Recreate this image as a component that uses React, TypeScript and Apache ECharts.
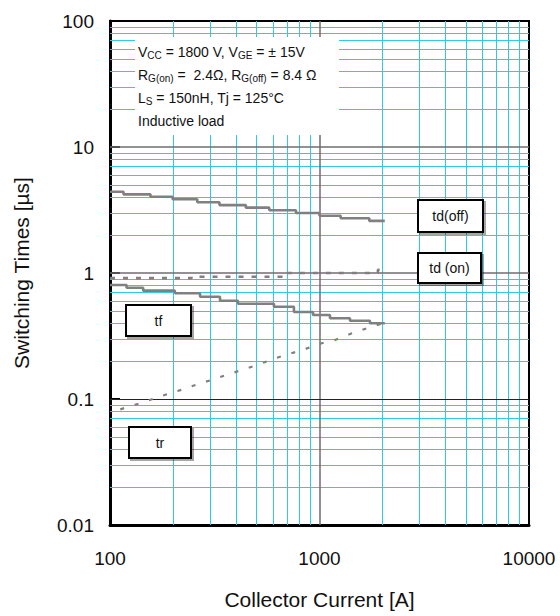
import React, { useEffect, useRef } from "react";
import * as echarts from "echarts";

// ---- data ----
const tdOff: number[][] = [
  [100, 4.42], [116, 4.21], [156, 4.03], [199, 3.85], [261, 3.64], [333, 3.46],
  [445, 3.3], [576, 3.15], [772, 2.99], [1000, 2.85], [1262, 2.72], [1729, 2.59], [2050, 2.59],
];
const tdOn: number[][] = [
  [100, 0.91], [245, 0.935], [670, 1.0], [1900, 1.06], [2000, 1.06],
];
const tf: number[][] = [
  [100, 0.803], [120, 0.764], [144, 0.724], [204, 0.69], [269, 0.648], [335, 0.603],
  [408, 0.57], [606, 0.54], [755, 0.49], [931, 0.464], [1122, 0.437], [1398, 0.418],
  [1742, 0.399], [2050, 0.399],
];
const tr: number[][] = [
  [112, 0.0828], [134, 0.0908], [160, 0.1], [189, 0.1096], [222, 0.119], [264, 0.1315],
  [311, 0.143], [371, 0.158], [436, 0.172], [520, 0.19], [613, 0.21], [729, 0.23],
  [853, 0.249], [1024, 0.277], [1186, 0.294], [1425, 0.332], [1680, 0.364], [2010, 0.4],
];
const xMinor = [200, 300, 400, 500, 600, 700, 800, 900, 2000, 3000, 4000, 5000, 6000, 7000, 8000, 9000];
const yMinor = [
  0.02, 0.03, 0.04, 0.05, 0.06, 0.07, 0.08, 0.09,
  0.2, 0.3, 0.4, 0.5, 0.6, 0.7, 0.8, 0.9,
  2, 3, 4, 5, 6, 7, 8, 9,
  20, 30, 40, 50, 60, 70, 80, 90,
];
const xMajor = [1000];
const yMajor = [0.1, 1, 10];
const xRange = [100, 10000];
const yRange = [0.01, 100];

const FONT = "'Liberation Sans', Arial, sans-serif";

function fmt(v: number): string {
  return String(Number(v.toPrecision(3)));
}

export default function App() {
  const ref = useRef<HTMLDivElement>(null);
  useEffect(() => {
    if (!ref.current) return;
    const chart = echarts.init(ref.current, undefined, { renderer: "svg" });
    const curve = "#808080";
    const legendBox = (x: number, y: number, w: number, h: number, label: string) => [
      {
        type: "rect",
        z: 20,
        shape: { x, y, width: w, height: h },
        style: { fill: "#fff", stroke: "#000", lineWidth: 2, shadowColor: "rgba(0,0,0,0.35)", shadowOffsetX: 2, shadowOffsetY: 2, shadowBlur: 1 },
      },
      {
        type: "text",
        z: 21,
        x: x + w / 2,
        y: y + h / 2,
        style: { text: label, fill: "#111", font: `14px ${FONT}`, align: "center", verticalAlign: "middle" },
      },
    ];
    const a = { fontSize: 14, fontFamily: FONT, color: "#111", lineHeight: 23 };
    const s = { fontSize: 10, fontFamily: FONT, color: "#111", lineHeight: 23, padding: [7, 0, 0, 0] };
    chart.setOption({
      animation: false,
      backgroundColor: "#fff",
      grid: { left: 110, right: 31, top: 21, bottom: 91, show: true, borderColor: "#000", borderWidth: 2, backgroundColor: "transparent" },
      xAxis: {
        type: "log",
        logBase: 10,
        min: xRange[0],
        max: xRange[1],
        name: "Collector Current [A]",
        nameLocation: "middle",
        nameGap: 64,
        nameTextStyle: { fontSize: 21, fontFamily: FONT, color: "#111" },
        axisLine: { show: true, lineStyle: { color: "#000", width: 3 } },
        axisTick: { show: false },
        axisLabel: { fontSize: 19, fontFamily: FONT, color: "#111", margin: 24, formatter: fmt },
        splitLine: { show: false },
      },
      yAxis: {
        type: "log",
        logBase: 10,
        min: yRange[0],
        max: yRange[1],
        name: "Switching Times [µs]",
        nameLocation: "middle",
        nameGap: 78,
        nameTextStyle: { fontSize: 21, fontFamily: FONT, color: "#111" },
        axisLine: { show: true, lineStyle: { color: "#000", width: 3 } },
        axisTick: { show: true, inside: true, length: 10, lineStyle: { color: "#000", width: 2 } },
        axisLabel: { fontSize: 19, fontFamily: FONT, color: "#111", margin: 16, formatter: fmt },
        splitLine: { show: false },
      },
      series: [
        {
          name: "minor grid",
          type: "line",
          z: 1,
          data: [[xRange[0], yRange[0]]],
          showSymbol: false,
          silent: true,
          lineStyle: { opacity: 0 },
          markLine: {
            silent: true,
            symbol: ["none", "none"],
            label: { show: false },
            lineStyle: { color: "#2ccbea", width: 1, type: "solid" },
            data: [
              ...xMinor.map((v) => ({ xAxis: v })),
              ...yMinor.map((v) => ({ yAxis: v })),
            ],
          },
        },
        {
          name: "major grid",
          type: "line",
          z: 2,
          data: [[xRange[0], yRange[0]]],
          showSymbol: false,
          silent: true,
          lineStyle: { opacity: 0 },
          markLine: {
            silent: true,
            symbol: ["none", "none"],
            label: { show: false },
            lineStyle: { color: "#6e6e6e", width: 1.5, type: "solid" },
            data: [
              ...xMajor.map((v) => ({ xAxis: v })),
              ...yMajor.map((v) => ({ yAxis: v, lineStyle: { color: v === 0.1 ? "#222" : "#6e6e6e", width: v === 0.1 ? 1 : 1.6, type: "solid" } })),
            ],
          },
        },
        {
          name: "td(off)", type: "line", z: 5, step: "end", data: tdOff, showSymbol: false,
          lineStyle: { color: curve, width: 2.6 },
        },
        {
          name: "td(on)", type: "line", z: 5, step: "end", data: tdOn, showSymbol: false,
          lineStyle: { color: curve, width: 2.6, type: [5, 8] },
        },
        {
          name: "tf", type: "line", z: 5, step: "end", data: tf, showSymbol: false,
          lineStyle: { color: curve, width: 2.6 },
        },
        {
          name: "tr", type: "line", z: 5, data: tr, showSymbol: false,
          lineStyle: { color: curve, width: 2.2, type: [4, 11] },
        },
      ],
      graphic: [
        { type: "rect", z: 15, shape: { x: 135, y: 37, width: 204, height: 98 }, style: { fill: "#fff" } },
        {
          type: "text",
          z: 16,
          x: 138,
          y: 40,
          style: {
            text:
              "{a|V}{s|CC}{a| = 1800 V, V}{s|GE}{a| = ± 15V}\n" +
              "{a|R}{s|G(on)}{a| =  2.4Ω, R}{s|G(off)}{a| = 8.4 Ω}\n" +
              "{a|L}{s|S}{a| = 150nH, Tj = 125°C}\n" +
              "{a|Inductive load}",
            rich: { a, s },
            fill: "#111",
          },
        },
        ...legendBox(418, 200, 65, 32, "td(off)"),
        ...legendBox(418, 253, 63, 30, "td (on)"),
        ...legendBox(126, 305, 65, 31, "tf"),
        ...legendBox(129, 427, 62, 31, "tr"),
      ],
    });
    return () => chart.dispose();
  }, []);
  return <div ref={ref} style={{ position: "fixed", left: 0, top: 0, width: 560, height: 616 }} />;
}
